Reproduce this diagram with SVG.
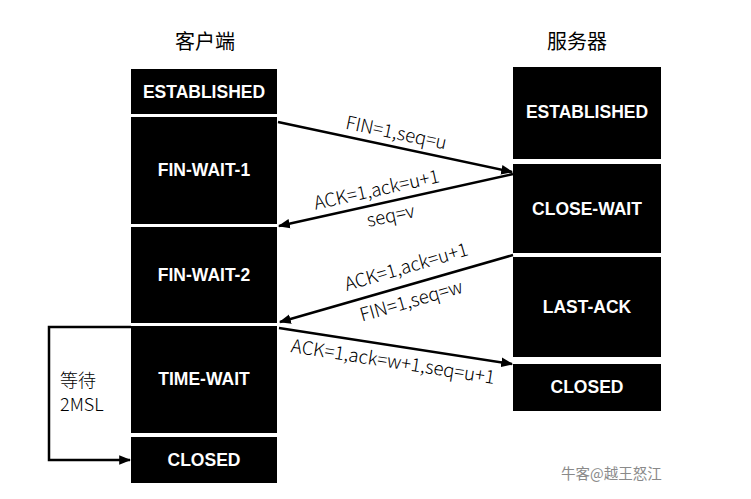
<svg xmlns="http://www.w3.org/2000/svg" width="751" height="499" viewBox="0 0 751 499">
<style>
.box{fill:#000}
.bl{fill:#fff;font-family:"Liberation Sans",Arial,sans-serif;font-weight:bold;font-size:17.5px;text-anchor:middle;dominant-baseline:central}
.hd{fill:#000;font-family:"Noto Sans CJK SC",sans-serif;font-size:20px;text-anchor:middle}
.lb{fill:#000;font-family:"Noto Sans CJK SC","Noto Sans",sans-serif;font-size:18.5px;font-weight:300;text-anchor:middle}
.ln{stroke:#000;stroke-width:2.5;fill:none}
</style>
<defs>
<marker id="ahb" viewBox="0 0 10 10" refX="9" refY="5" markerWidth="12" markerHeight="12" orient="auto" markerUnits="userSpaceOnUse">
<path d="M0,1 L10,5 L0,9 z" fill="#000"/>
</marker>
</defs>
<rect width="751" height="499" fill="#fff"/>
<text class="hd" x="205" y="49">客户端</text>
<text class="hd" x="577" y="49">服务器</text>

<g id="c-established"><rect class="box" x="131" y="69" width="146" height="45"/><text class="bl" x="204" y="92">ESTABLISHED</text></g>
<g id="c-finwait1"><rect class="box" x="131" y="117" width="146" height="107"/><text class="bl" x="204" y="170">FIN-WAIT-1</text></g>
<g id="c-finwait2"><rect class="box" x="131" y="227" width="146" height="96"/><text class="bl" x="204" y="275">FIN-WAIT-2</text></g>
<g id="c-timewait"><rect class="box" x="131" y="326" width="146" height="107"/><text class="bl" x="204" y="379">TIME-WAIT</text></g>
<g id="c-closed"><rect class="box" x="131" y="437" width="146" height="46"/><text class="bl" x="204" y="460">CLOSED</text></g>

<g id="s-established"><rect class="box" x="513" y="67" width="148" height="92"/><text class="bl" x="587" y="112">ESTABLISHED</text></g>
<g id="s-closewait"><rect class="box" x="513" y="164" width="148" height="89"/><text class="bl" x="587" y="209">CLOSE-WAIT</text></g>
<g id="s-lastack"><rect class="box" x="513" y="257" width="148" height="100"/><text class="bl" x="587" y="307">LAST-ACK</text></g>
<g id="s-closed"><rect class="box" x="513" y="364" width="148" height="47"/><text class="bl" x="587" y="387">CLOSED</text></g>

<g id="connectors">
<line class="ln" x1="278" y1="122" x2="512" y2="172" marker-end="url(#ahb)"/>
<line class="ln" x1="513" y1="174" x2="279" y2="226" marker-end="url(#ahb)"/>
<line class="ln" x1="513" y1="255" x2="280" y2="322" marker-end="url(#ahb)"/>
<line class="ln" x1="279" y1="328" x2="512" y2="364" marker-end="url(#ahb)"/>
<polyline class="ln" points="131,327 49,327 49,460 130,460" marker-end="url(#ahb)"/>
</g>

<g id="labels">
<text class="lb" transform="translate(395,139) rotate(11.8)">FIN=1,seq=u</text>
<text class="lb" transform="translate(378,196) rotate(-12.5)">ACK=1,ack=u+1</text>
<text class="lb" transform="translate(392,222) rotate(-12)">seq=v</text>
<text class="lb" transform="translate(408,273) rotate(-16.3)">ACK=1,ack=u+1</text>
<text class="lb" transform="translate(413,307) rotate(-16)">FIN=1,seq=w</text>
<text class="lb" transform="translate(392,368) rotate(8.9)">ACK=1,ack=w+1,seq=u+1</text>
<text class="lb" x="60" y="387" style="text-anchor:start;font-size:18px">等待</text>
<text class="lb" x="60" y="411" style="text-anchor:start;font-size:18px">2MSL</text>
<text x="561" y="479" style="fill:#8a8a8a;font-family:'Noto Sans CJK SC',sans-serif;font-size:14.5px">牛客@越王怒江</text>
</g>
</svg>
